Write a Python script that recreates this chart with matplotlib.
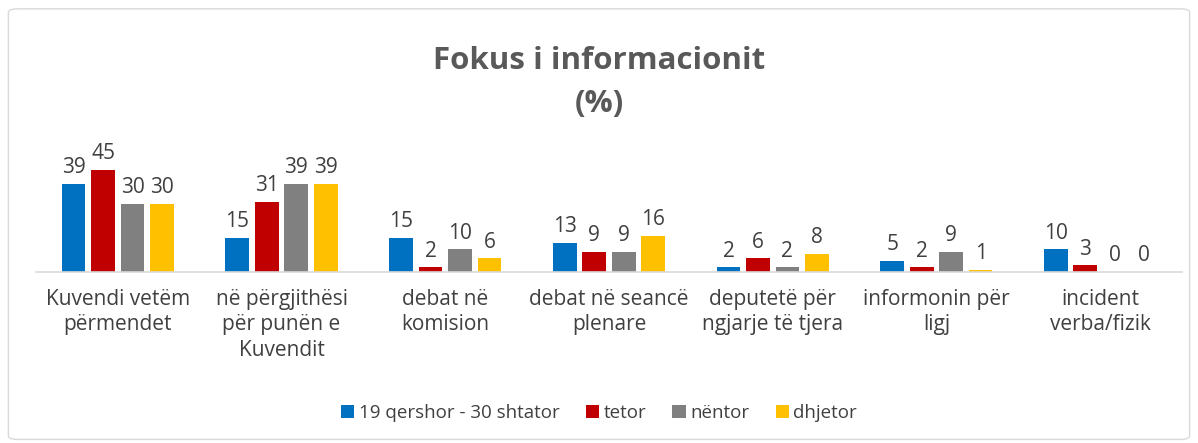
"""Fokus i informacionit - grouped bar chart."""

import matplotlib

matplotlib.use("Agg")
import matplotlib.pyplot as plt  # noqa: E402
import numpy as np  # noqa: E402
from matplotlib.patches import FancyBboxPatch  # noqa: E402

CATEGORIES = [
    "Kuvendi vetëm\npërmendet",
    "në përgjithësi\npër punën e\nKuvendit",
    "debat në\nkomision",
    "debat në seancë\nplenare",
    "deputetë për\nngjarje të tjera",
    "informonin për\nligj",
    "incident\nverba/fizik",
]
SERIES = ["19 qershor - 30 shtator", "tetor", "nëntor", "dhjetor"]
QERSHOR_SHTATOR = [39, 15, 15, 13, 2, 5, 10]
TETOR = [45, 31, 2, 9, 6, 2, 3]
NENTOR = [30, 39, 10, 9, 2, 9, 0]
DHJETOR = [30, 39, 6, 16, 8, 1, 0]
COLORS = ["#0070C0", "#C00000", "#808080", "#FFC000"]
TEXT = "#404040"

plt.rcParams["font.family"] = ["Open Sans", "DejaVu Sans"]

fig = plt.figure(figsize=(11.98, 4.43), dpi=100)
fig.patches.append(
    FancyBboxPatch((0.007, 0.008), 0.986, 0.972, boxstyle="round,pad=0,rounding_size=0.008",
                   transform=fig.transFigure, facecolor="white", edgecolor="#D9D9D9",
                   linewidth=1.0, zorder=-1)
)
ax = fig.add_axes([0.030, 0.386, 0.9566, 0.256])
ax.patch.set_alpha(0)

x = np.arange(len(CATEGORIES))
width = 0.145
step = 0.18
for i, (values, color, name) in enumerate(
    zip([QERSHOR_SHTATOR, TETOR, NENTOR, DHJETOR], COLORS, SERIES)
):
    pos = x + (i - 1.5) * step
    ax.bar(pos, values, width=width, color=color, label=name)
    for xp, v in zip(pos, values):
        ax.annotate(str(v), (xp, v), xytext=(0, 4), textcoords="offset points",
                    ha="center", va="bottom", fontsize=15, color=TEXT)

ax.set_xlim(-0.5, len(CATEGORIES) - 0.5)
ax.set_ylim(0, 50)
ax.set_yticks([])
ax.set_xticks(x)
ax.set_xticklabels(CATEGORIES, fontsize=15, color=TEXT, linespacing=1.3)
ax.tick_params(axis="x", length=0, pad=12)
for side in ("top", "right", "left"):
    ax.spines[side].set_visible(False)
ax.spines["bottom"].set_color("#D9D9D9")
ax.spines["bottom"].set_linewidth(1.2)

fig.text(0.5, 0.862, "Fokus i informacionit", ha="center", va="center",
         fontsize=22.5, fontweight="bold", color="#595959")
fig.text(0.5, 0.765, "(%)", ha="center", va="center",
         fontsize=22.5, fontweight="bold", color="#595959")

fig.legend(loc="center", bbox_to_anchor=(0.5, 0.068), ncol=4, frameon=False,
           fontsize=13.5, labelcolor=TEXT, handlelength=0.7, handleheight=0.7,
           handletextpad=0.25, columnspacing=1.4)

fig.savefig("out.png", dpi=100)
